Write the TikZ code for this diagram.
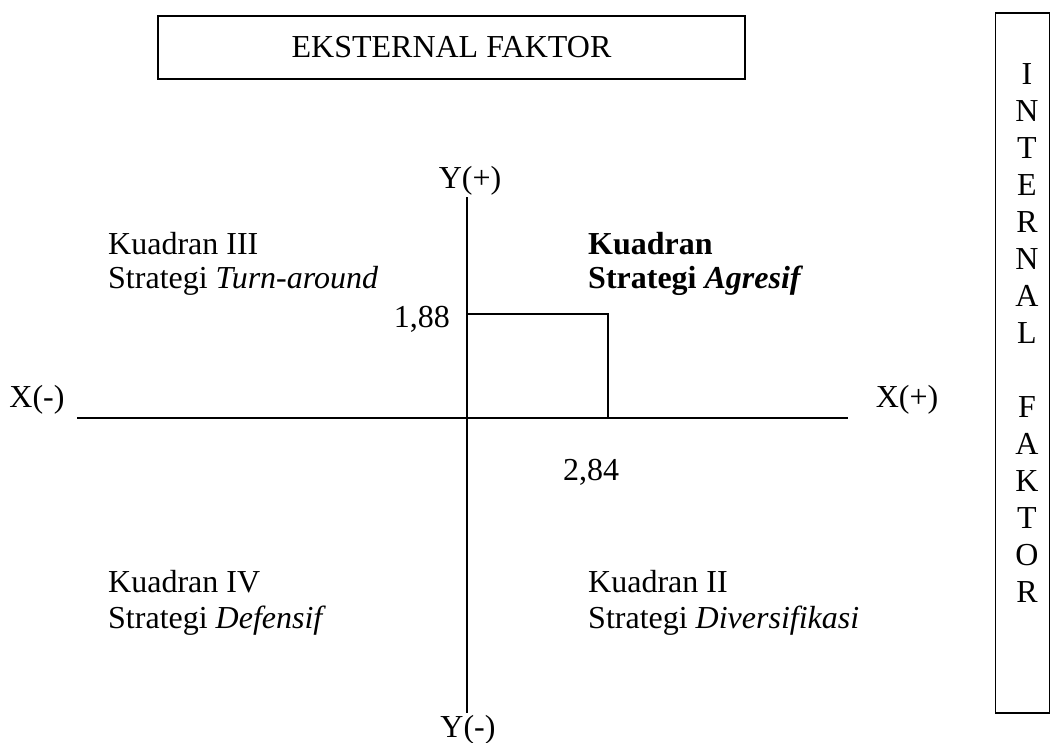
\documentclass[tikz,border=0pt]{standalone}
\usepackage{fontspec}
\setmainfont{Liberation Serif}
\begin{document}
\begin{tikzpicture}[x=1pt,y=-1pt,
  every node/.style={font=\fontsize{32}{37}\selectfont, inner sep=0pt},
  framebox/.style={draw, line width=1.4pt},
  axisline/.style={line width=1.4pt},
  lbl/.style={anchor=base west}]
\useasboundingbox (0,0) rectangle (1051,742);
% top box
\node[framebox, minimum width=587, minimum height=63] (ek) at (451.5,47.5) {EKSTERNAL FAKTOR};
% right box
\node[framebox, minimum width=54, minimum height=700] (ib) at (1022.5,363) {};
\foreach \c [count=\i] in {I,N,T,E,R,N,A,L}
  \node[anchor=base] (va\i) at (1027,{84+37*(\i-1)}) {\c};
\foreach \c [count=\i] in {F,A,K,T,O,R}
  \node[anchor=base] (vb\i) at (1027,{417+37*(\i-1)}) {\c};
% axes
\coordinate (xl) at (77,418);
\coordinate (xr) at (848,418);
\coordinate (yt) at (467,197);
\coordinate (yb) at (467,713);
\coordinate (o) at (467,418);
\coordinate (q) at (608,314);
\draw[axisline] (xl) -- (xr);
\draw[axisline] (yt) -- (yb);
\draw[axisline] (o |- q) -| (o -| q);
% axis labels
\node[anchor=base] (yp) at (470,188) {Y(+)};
\node[anchor=base] (ym) at (468,737) {Y(-)};
\node[anchor=base] (xm) at (37,407) {X(-)};
\node[anchor=base] (xp) at (907,407) {X(+)};
\node[anchor=base east] (v188) at (450,327) {1,88};
\node[anchor=base] (v284) at (591,480) {2,84};
% quadrants
\node[lbl] (k3a) at (108,254) {Kuadran III};
\node[lbl] (k3b) at (108,288) {Strategi \textit{Turn-around}};
\node[lbl] (k1a) at (588,254) {\textbf{Kuadran}};
\node[lbl] (k1b) at (588,288) {\textbf{Strategi \textit{Agresif}}};
\node[lbl] (k4a) at (108,592) {Kuadran IV};
\node[lbl] (k4b) at (108,628) {Strategi \textit{Defensif}};
\node[lbl] (k2a) at (588,592) {Kuadran II};
\node[lbl] (k2b) at (588,628) {Strategi \textit{Diversifikasi}};
\end{tikzpicture}
\end{document}
